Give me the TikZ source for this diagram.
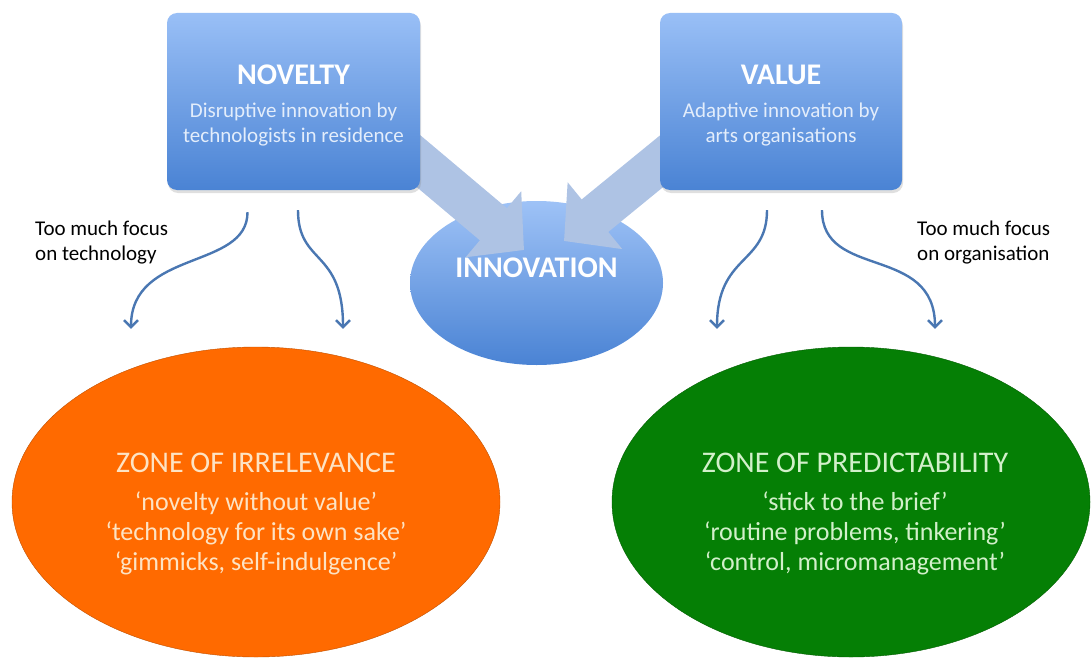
\documentclass[tikz,border=0pt]{standalone}
\usepackage{fontspec}
\setmainfont{Carlito}
\usetikzlibrary{arrows.meta,shapes.geometric,shadows}

\definecolor{boxtop}{HTML}{99BFF6}
\definecolor{boxbot}{HTML}{4A83D4}
\definecolor{pale}{HTML}{AEC3E4}
\definecolor{swoopblue}{HTML}{4A77B2}
\definecolor{zoneorange}{HTML}{FF6A00}
\definecolor{zonegreen}{HTML}{057F05}
\definecolor{peach}{HTML}{FDE3C4}
\definecolor{mint}{HTML}{D2F0CA}
\definecolor{subtext}{HTML}{E3EDFB}

\begin{document}
\begin{tikzpicture}[x=1pt,y=-1pt,
    sourcebox/.style={rectangle, rounded corners=10pt, top color=boxtop, bottom color=boxbot,
        minimum height=177pt, inner sep=0pt, text height=81pt, text depth=0pt, align=center, text=white,
        font=\fontsize{21}{24.5}\selectfont,
        drop shadow={shadow xshift=1pt, shadow yshift=-3pt, opacity=0.25}},
    zone/.style={ellipse, minimum height=310pt, inner sep=0pt, draw=#1!75!black, fill=#1},
    zonetext/.style={align=center, font=\fontsize{26}{30}\selectfont},
    bigarrow/.style={pale, line width=42pt, -{Triangle[width=84pt,length=40pt]}},
    swoop/.style={swoopblue, line width=2.4pt, -{Straight Barb[length=7pt,width=14pt]}},
    note/.style={anchor=north west, inner sep=0pt, align=left, font=\fontsize{21}{25}\selectfont}
]
\useasboundingbox (0,0) rectangle (1091,658);

% innovation in the middle
\node[ellipse, minimum width=253pt, minimum height=164pt, inner sep=0pt,
      top color=boxtop!95!white, bottom color=boxbot, text=white, text depth=30pt,
      font=\fontsize{30}{36}\selectfont\bfseries] (innovation) at (536.5,283) {INNOVATION};

% broad arrows, tails hidden under the boxes
\coordinate (fromnovelty) at (372,122);
\coordinate (tonovelty) at (524,250);
\coordinate (fromvalue) at (712,120);
\coordinate (tovalue) at (564,241);
\draw[bigarrow] (fromnovelty) -- (tonovelty);
\draw[bigarrow] (fromvalue) -- (tovalue);

% the two sources
\node[sourcebox, minimum width=253pt] (novelty) at (293.5,101.5)
    {{\fontsize{30}{36}\selectfont\bfseries NOVELTY}\\[8.5pt]
     \color{subtext}Disruptive innovation by\\ \color{subtext}technologists in residence};
\node[sourcebox, minimum width=242pt] (value) at (781,101.5)
    {{\fontsize{30}{36}\selectfont\bfseries VALUE}\\[8.5pt]
     \color{subtext}Adaptive innovation by\\ \color{subtext}arts organisations};

% the two zones
\node[zone=zoneorange, minimum width=488pt] (irrelevance) at (256,502) {};
\node[zone=zonegreen, minimum width=478pt] (predictability) at (851,502) {};
\node[zonetext, text=peach] (irrelevancetext) at (256,514)
    {{\fontsize{30}{36}\selectfont ZONE OF IRRELEVANCE}\\[7.5pt]
     `novelty without value'\\ `technology for its own sake'\\ `gimmicks, self-indulgence'};
\node[zonetext, text=mint] (predictabilitytext) at (855,514)
    {{\fontsize{30}{36}\selectfont ZONE OF PREDICTABILITY}\\[7.5pt]
     `stick to the brief'\\ `routine problems, tinkering'\\ `control, micromanagement'};

% side notes
\node[note] (technote) at (35,221) {Too much focus\\on technology};
\node[note] (orgnote) at (917,221) {Too much focus\\on organisation};

% wavy arrows down to the zones
\draw[swoop] ([xshift=-46pt,yshift=-22pt]novelty.south) .. controls +(0,58) and +(0,-80) .. ([xshift=-125pt,yshift=18pt]irrelevance.north);
\draw[swoop] ([xshift=4.5pt,yshift=-20pt]novelty.south) .. controls +(0,55) and +(0,-80) .. ([xshift=87pt,yshift=18pt]irrelevance.north);
\draw[swoop] ([xshift=-14pt,yshift=-20pt]value.south) .. controls +(0,55) and +(0,-75) .. ([xshift=-134pt,yshift=18pt]predictability.north);
\draw[swoop] ([xshift=41pt,yshift=-20pt]value.south) .. controls +(0,70) and +(0,-85) .. ([xshift=84pt,yshift=18pt]predictability.north);
\end{tikzpicture}
\end{document}
